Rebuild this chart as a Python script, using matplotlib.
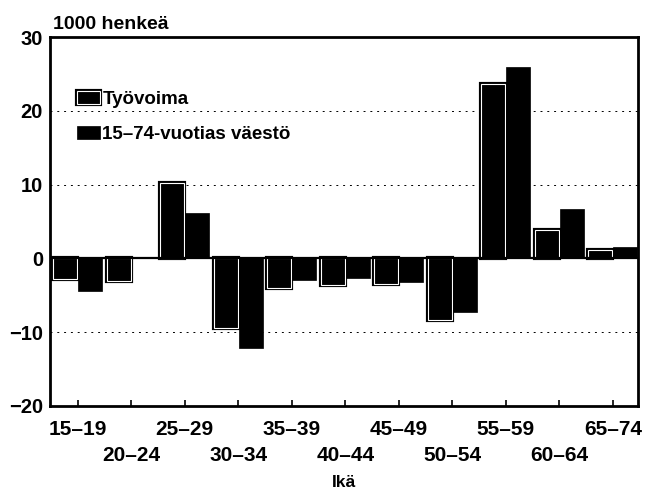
import matplotlib
matplotlib.use('Agg')
import matplotlib.pyplot as plt
import matplotlib.patheffects as pe
import numpy as np

# DATA (1000 persons, change by age group)
ika = ['15–19', '20–24', '25–29', '30–34', '35–39', '40–44',
       '45–49', '50–54', '55–59', '60–64', '65–74']
tyovoima = [-2.8, -3.0, 10.2, -9.4, -4.0, -3.6, -3.5, -8.4, 23.6, 3.8, 1.1]
vaesto = [-4.4, 0.2, 6.2, -12.2, -2.9, -2.7, -3.2, -7.3, 25.9, 6.7, 1.5]

plt.rcParams['font.family'] = ['Liberation Sans', 'DejaVu Sans']
plt.rcParams['font.weight'] = 'bold'

fig = plt.figure(figsize=(6.45, 4.95), dpi=100)
ax = fig.add_axes([0.0775, 0.18, 0.9115, 0.745])

x = np.arange(len(ika))
w = 0.45

# gridlines behind bars
for yv in [20, 10, -10]:
    ax.axhline(yv, color='black', lw=0.7, ls=(0, (2, 5)), zorder=0)

b1 = ax.bar(x - 0.235, tyovoima, w, color='black', edgecolor='white', lw=0.8,
            label='Työvoima', zorder=2,
            path_effects=[pe.Stroke(linewidth=3, foreground='black'), pe.Normal()])
b2 = ax.bar(x + 0.235, vaesto, w, color='black', edgecolor='black', lw=0.5,
            label='15–74-vuotias väestö', zorder=2)

ax.axhline(0, color='black', lw=1.6, zorder=3)

ax.set_xlim(-0.52, 10.47)
ax.set_ylim(-20, 30)
ax.set_yticks([-20, -10, 0, 10, 20, 30])
ax.set_yticklabels(['−20', '−10', '0', '10', '20', '30'])
ax.tick_params(axis='y', length=0, pad=5, labelsize=14.5)

# alternate tick labels on two rows
ax.set_xticks(x[::2])
ax.set_xticklabels(ika[::2])
ax.set_xticks(x[1::2], minor=True)
ax.set_xticklabels(ika[1::2], minor=True)
ax.tick_params(axis='x', which='both', direction='in', length=4, width=1.2,
               labelsize=15)
ax.tick_params(axis='x', which='major', pad=10)
ax.tick_params(axis='x', which='minor', pad=29)

for s in ax.spines.values():
    s.set_linewidth(2)

ax.text(0.005, 1.012, '1000 henkeä', transform=ax.transAxes, ha='left',
        va='bottom', fontsize=14)
ax.set_xlabel('Ikä', fontsize=12.5, fontweight='bold', labelpad=7)

ax.legend(loc='upper left', bbox_to_anchor=(0.046, 0.855), frameon=False,
          fontsize=13.5, handlelength=1.2, handleheight=0.7, handletextpad=0.15,
          labelspacing=0.95, borderaxespad=0, borderpad=0)

fig.savefig('out.png', dpi=100)
